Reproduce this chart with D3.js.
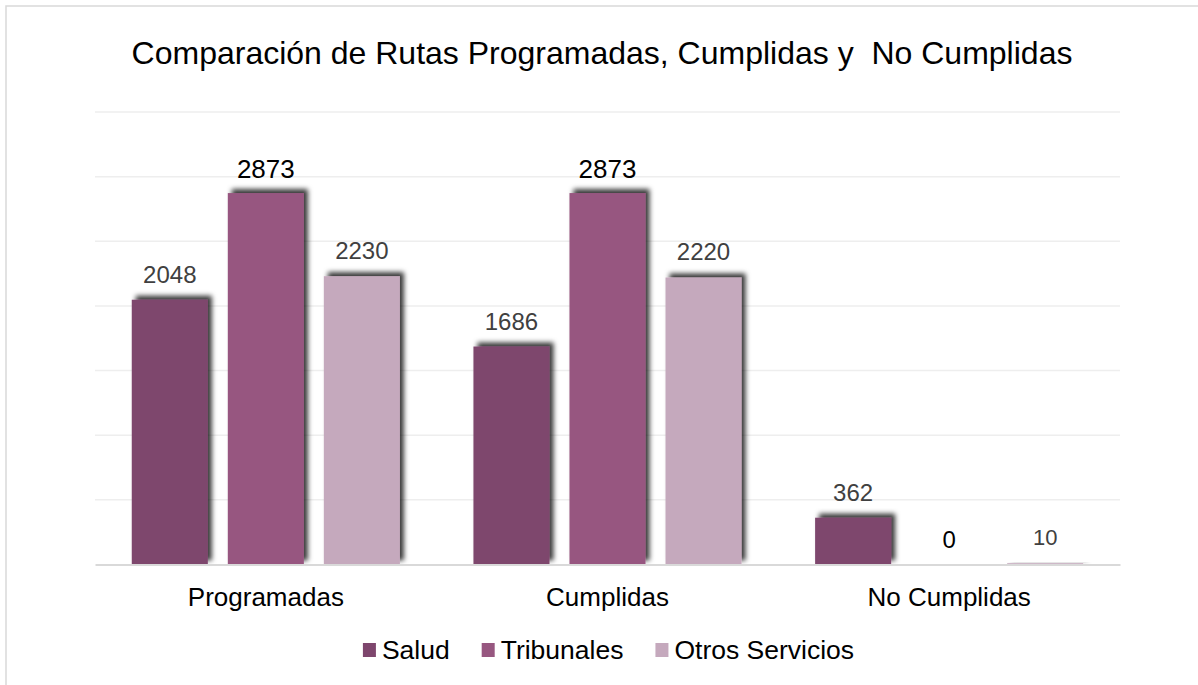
<!DOCTYPE html>
<html>
<head>
<meta charset="utf-8">
<script src="https://cdn.jsdelivr.net/npm/d3@7"></script>
<style>
  html, body { margin: 0; padding: 0; background: #fff; }
  svg { display: block; font-family: "Liberation Sans", Arial, sans-serif; }
  text { white-space: pre; }
</style>
</head>
<body>
<svg id="chart" width="1198" height="685"></svg>
<script>
const title = "Comparación de Rutas Programadas, Cumplidas y  No Cumplidas";
const categories = ["Programadas", "Cumplidas", "No Cumplidas"];
const seriesNames = ["Salud", "Tribunales", "Otros Servicios"];
const salud = [2048, 1686, 362];
const tribunales = [2873, 2873, 0];
const otros = [2230, 2220, 10];
const yTicks = [0, 500, 1000, 1500, 2000, 2500, 3000, 3500];
const colors = ["#7e466d", "#975780", "#c5a9bd"];

const seriesValues = [salud, tribunales, otros];
const svg = d3.select("#chart");
const W = 1198, H = 685;
const plotBottom = 564.5;

// outer border
svg.append("rect").attr("x", 6).attr("y", 6).attr("width", W).attr("height", H)
  .attr("fill", "#fff").attr("stroke", "#d9d9d9").attr("stroke-width", 1.5);

// shadow filter
const defs = svg.append("defs");
const f = defs.append("filter").attr("id", "shadow")
  .attr("x", "-20%").attr("y", "-20%").attr("width", "150%").attr("height", "150%");
f.append("feDropShadow").attr("dx", 4).attr("dy", -4).attr("stdDeviation", 2.8)
  .attr("flood-color", "#000").attr("flood-opacity", 0.78);

const x0 = d3.scaleBand().domain(categories).range([95, 1120]).paddingInner(0).paddingOuter(0);
const x1 = d3.scaleBand().domain(seriesNames).range([0, x0.bandwidth()]).paddingInner(0.208).paddingOuter(0.383);
const y = d3.scaleLinear().domain([0, 3500]).range([plotBottom, 112]);

// gridlines
svg.append("g").selectAll("line").data(yTicks.filter(t => t > 0)).join("line")
  .attr("x1", 95).attr("x2", 1120)
  .attr("y1", d => y(d)).attr("y2", d => y(d))
  .attr("stroke", "#eeeeee").attr("stroke-width", 1.5);

// title
svg.append("text").attr("x", 602).attr("y", 64).attr("text-anchor", "middle")
  .attr("font-size", 32).attr("fill", "#000").text(title);

// bars
const groups = svg.selectAll("g.cat").data(categories).join("g")
  .attr("class", "cat").attr("transform", d => `translate(${x0(d)},0)`);

groups.each(function(cat, ci) {
  const g = d3.select(this);
  seriesNames.forEach((s, si) => {
    const v = seriesValues[si][ci];
    const bx = x1(s), bw = x1.bandwidth();
    if (v > 0) {
      g.append("rect").attr("x", bx).attr("y", y(v)).attr("width", bw)
        .attr("height", plotBottom - y(v)).attr("fill", colors[si])
        .attr("filter", "url(#shadow)");
    }
  });
});

// baseline axis
const xAxis = d3.axisBottom(x0).tickSize(0).tickPadding(0);
const axisG = svg.append("g").attr("transform", `translate(0,${plotBottom})`).call(xAxis);
axisG.select(".domain").attr("stroke", "#d9d9d9").attr("stroke-width", 2);
axisG.selectAll(".tick text").attr("font-size", 26).attr("fill", "#000")
  .attr("font-family", "Liberation Sans, Arial, sans-serif").attr("dy", null).attr("y", 41);

// labels
groups.each(function(cat, ci) {
  const g = d3.select(this);
  seriesNames.forEach((s, si) => {
    const v = seriesValues[si][ci];
    const cx = x1(s) + x1.bandwidth() / 2;
    let size = 24, color = "#404040", yy = y(v) - 17;
    if (v === 2873) { size = 26; color = "#000"; yy = y(v) - 15; }
    if (v === 0) { size = 24; color = "#000"; yy = y(v) - 17; }
    if (v === 10) { size = 22; color = "#404040"; yy = y(v) - 18; }
    g.append("text").attr("x", cx).attr("y", yy).attr("text-anchor", "middle")
      .attr("font-size", size).attr("fill", color).text(v);
  });
});

// legend
const legend = svg.append("g");
let lx = 0;
seriesNames.forEach((s, i) => {
  const it = legend.append("g");
  it.append("rect").attr("x", 0).attr("y", -7).attr("width", 13).attr("height", 14).attr("fill", colors[i]);
  const t = it.append("text").attr("x", 19).attr("y", 9).attr("font-size", 26.5).attr("fill", "#000").text(s);
  const w = 19 + t.node().getComputedTextLength();
  it.attr("transform", `translate(${lx},0)`);
  lx += w + 32;
});
const totalW = lx - 32;
legend.attr("transform", `translate(${608.5 - totalW / 2},650)`);
</script>
</body>
</html>
